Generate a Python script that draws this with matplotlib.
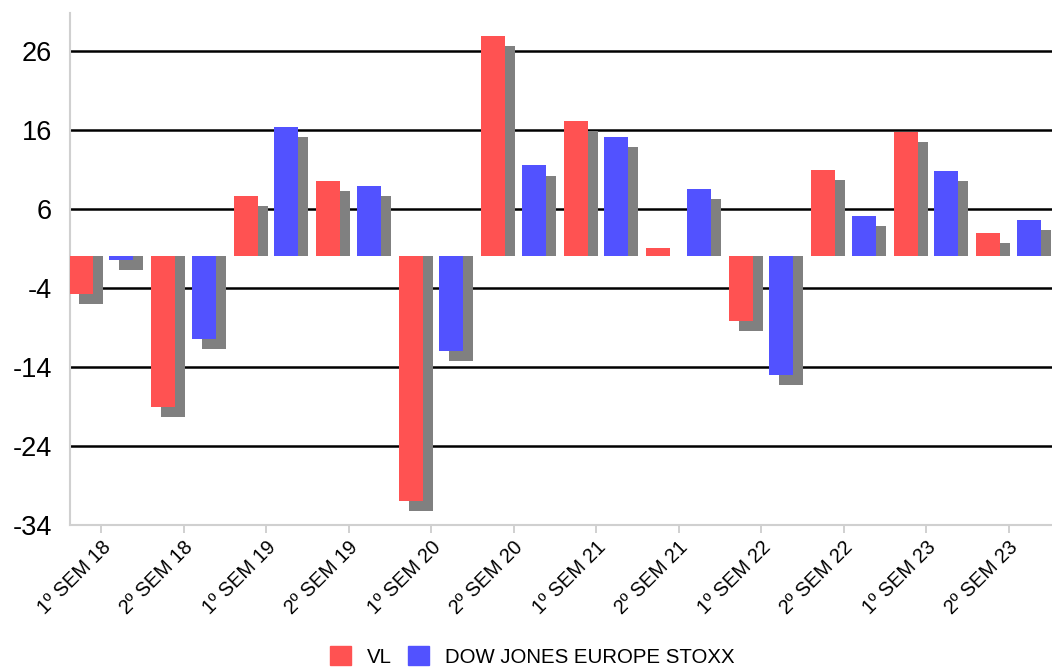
import numpy as np
import matplotlib
matplotlib.use("Agg")
import matplotlib.pyplot as plt
from matplotlib.patches import Patch

plt.rcParams["font.family"] = ["Liberation Sans", "DejaVu Sans"]

# half-year periods
categories = ["1º SEM 18", "2º SEM 18", "1º SEM 19", "2º SEM 19",
              "1º SEM 20", "2º SEM 20", "1º SEM 21", "2º SEM 21",
              "1º SEM 22", "2º SEM 22", "1º SEM 23", "2º SEM 23"]

# returns
vl = [-4.8, -19.1, 7.6, 9.6, -30.9, 27.9, 17.1, 1.0, -8.2, 10.9, 15.7, 2.9]
stoxx = [-0.4, -10.4, 16.4, 8.9, -12.0, 11.5, 15.1, 8.5, -15.0, 5.1, 10.8, 4.6]

yticks = [-34, -24, -14, -4, 6, 16, 26]

red = "#ff5252"
blue = "#5252ff"
shadow = "#808080"

fig = plt.figure(figsize=(10.52, 6.69), dpi=100)
ax = fig.add_axes([70 / 1052, 1 - 525 / 669, 1 - 70 / 1052, (525 - 13) / 669])

x = np.arange(len(categories))
width = 0.29
off = 0.245
sh_dx = 0.12   # shadow shift right (category units)
sh_dy = 1.27   # shadow shift down (value units)

def shadow_heights(vals):
    out = []
    for v in vals:
        h = v - sh_dy
        if v > 0 and h < 0:
            h = 0
        out.append(h)
    return out

ax.bar(x - off + sh_dx, shadow_heights(vl), width, color=shadow, zorder=2)
ax.bar(x + off + sh_dx, shadow_heights(stoxx), width, color=shadow, zorder=2)
ax.bar(x - off, vl, width, color=red, zorder=3)
ax.bar(x + off, stoxx, width, color=blue, zorder=3)

for t in yticks[1:]:
    ax.axhline(t, color="black", lw=1.8, zorder=1)

ax.set_xlim(-0.376, 11.527)
ax.set_ylim(-34, 30.8)
ax.set_yticks(yticks)
ax.set_yticklabels([str(t) for t in yticks], fontsize=19.5)
ax.tick_params(axis="y", length=0, pad=13)
ax.set_xticks(x)
ax.set_xticklabels(categories, rotation=45, ha="right", rotation_mode="anchor",
                   fontsize=14.3)
ax.tick_params(axis="x", length=6, color="#c8c8c8", width=1.2, pad=3)

for s in ["top", "right"]:
    ax.spines[s].set_visible(False)
for s in ["left", "bottom"]:
    ax.spines[s].set_color("#d0d0d0")
    ax.spines[s].set_linewidth(1.5)

handles = [Patch(color=red, label="VL"),
           Patch(color=blue, label="DOW JONES EUROPE STOXX")]
fig.legend(handles=handles, loc="center", bbox_to_anchor=(0.506, 0.019),
           ncol=2, frameon=False, fontsize=14.7, handlelength=1.06,
           handleheight=1.06, columnspacing=0.77, handletextpad=0.77,
           borderpad=0, borderaxespad=0)

fig.savefig("out.png", dpi=100)
